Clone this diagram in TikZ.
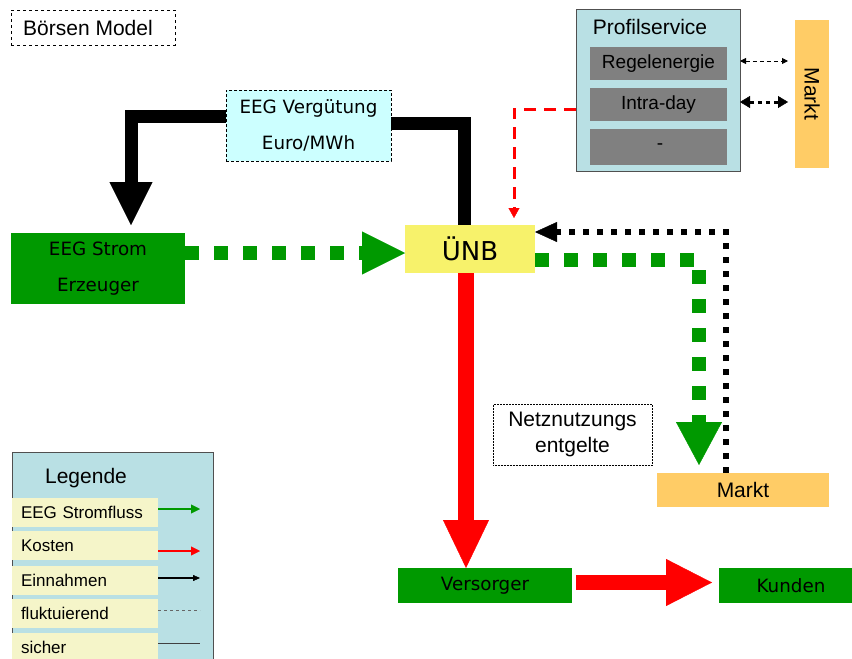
\documentclass[tikz,border=0pt]{standalone}
\usepackage{fontspec}
\setmainfont{Liberation Sans}
\newfontfamily\fru{DejaVu Sans}
\usetikzlibrary{arrows.meta}

\definecolor{eeggreen}{HTML}{009900}
\definecolor{paleblue}{HTML}{B9E0E4}
\definecolor{palecyan}{HTML}{CCFFFF}
\definecolor{unbyellow}{HTML}{F7F26B}
\definecolor{marktorange}{HTML}{FFCC66}
\definecolor{cream}{HTML}{F5F5C9}
\definecolor{boxgray}{HTML}{808080}
\definecolor{framegray}{HTML}{505050}

\tikzset{
  sz/.style 2 args={minimum width=#1pt, minimum height=#2pt},
  fru/.style={font=\fru\fontsize{18.3}{36}\selectfont},
  big/.style={font=\fontsize{21}{26}\selectfont},
  mid/.style={font=\fontsize{19}{24}\selectfont},
  small/.style={font=\fontsize{17}{20}\selectfont},
  legitem/.style={fill=cream, minimum height=29pt, text width=128pt, align=left, inner xsep=9pt, small},
  bigblack/.style={draw=black, line width=13pt, -{Triangle[length=43pt,width=43pt,line width=0.4pt]}},
  greenflow/.style={draw=eeggreen, line width=14pt, dash pattern=on 14pt off 15pt,
    -{Triangle[length=43pt,width=#1pt,line width=0.4pt]}},
  redflow/.style={draw=red, line width=#1pt},
  blackdot/.style={draw=black, line width=6pt, dash pattern=on 6pt off 8pt,
    -{Triangle[length=22pt,width=20pt,line width=0.4pt]}},
}

\begin{document}
\begin{tikzpicture}[x=1pt,y=-1pt, every node/.style={inner sep=0pt, outer sep=0pt}]
\useasboundingbox (0,0) rectangle (852,659);

% title
\node[draw, dashed, line width=0.6pt, sz={164}{35}, big] (boersen) at (93,27.5) {Börsen Model\hspace*{10pt}};

% main nodes
\node[draw=black, densely dashed, line width=0.6pt, fill=palecyan, sz={165}{71}, fru, align=center] (eegv) at (308.5,125.5) {EEG Vergütung\\Euro/MWh};
\node[fill=eeggreen, sz={174}{71}, fru, align=center] (erz) at (98,268.5) {EEG Strom\\Erzeuger};
\node[fill=unbyellow, sz={130}{48}, font=\fru\fontsize{26}{30}\selectfont] (unb) at (470,249) {ÜNB};
\node[fill=eeggreen, sz={174}{35}, fru] (versorger) at (485,585.5) {Versorger};
\node[fill=eeggreen, sz={144}{35}, fru] (kunden) at (791,585.5) {Kunden};
\node[fill=marktorange, sz={172}{34}, big] (marktB) at (743,490) {Markt};
\node[draw=black, densely dotted, line width=0.5pt, sz={159}{61}, big, align=center] (netz) at (572.5,434.5) {Netznutzungs\\entgelte};

% Profilservice group
\node[draw=framegray, line width=1pt, fill=paleblue, sz={164}{162}] (prof) at (658,90) {};
\node[big] (proftitle) at (650,27) {Profilservice};
\node[fill=boxgray, sz={137}{33}, mid] (regel) at (658.5,63.5) {Regelenergie};
\node[fill=boxgray, sz={137}{33}, mid] (intra) at (658.5,104.5) {Intra-day};
\node[fill=boxgray, sz={137}{36}, mid] (other) at (658.5,147) {\hspace*{3pt}-};
\node[fill=marktorange, sz={148}{34}, rotate=-90, big] (marktV) at (812,94) {Markt};

% legend
\node[draw=framegray, line width=1pt, fill=paleblue, sz={201}{218}] (legend) at (112.5,561) {};
\node[big] (legtitle) at (86,478) {Legende};
\node[legitem] (item1) at (85,512.5) {EEG Stromfluss};
\node[legitem] (item2) at (85,545.5) {Kosten};
\node[legitem] (item3) at (85,580) {Einnahmen};
\node[legitem] (item4) at (85,613.5) {fluktuierend};
\node[legitem] (item5) at (85,647.5) {sicher};

% payment flows (black)
\coordinate (eegin) at (131,225);
\draw[bigblack] ([yshift=9pt]eegv.west) -| (eegin);
\draw[draw=black, line width=13pt] ([yshift=2pt]eegv.east) -| ([xshift=-6pt]unb.north);

% EEG power flows (green)
\coordinate (g1) at ([yshift=15.5pt]erz.east);
\draw[greenflow=43] (g1) -- (g1 -| unb.west);
\coordinate (g2) at ([yshift=-11pt]unb.east);
\coordinate (g3) at ([xshift=-44pt,yshift=8pt]marktB.north);
\draw[greenflow=46] (g2) -| (g3);

% income from the market (black dotted)
\coordinate (b1) at ([xshift=-17pt]marktB.north);
\coordinate (b2) at ([yshift=17pt]unb.east);
\draw[blackdot] (b1) |- (b2);

% costs (red)
\draw[redflow=16, -{Triangle[length=48pt,width=46pt,line width=0.4pt]}] ([xshift=-4pt]unb.south) -- ([xshift=-19pt]versorger.north);
\draw[redflow=15, -{Triangle[length=46pt,width=47pt,line width=0.4pt]}] ([xshift=4pt,yshift=3pt]versorger.east) -- ([xshift=-7pt,yshift=3pt]kunden.west);
\coordinate (r1) at ([yshift=-19pt]prof.west);
\coordinate (r2) at ([xshift=44pt,yshift=7pt]unb.north);
\draw[red, line width=3pt, dash pattern=on 12pt off 8pt, -{Triangle[length=10pt,width=11pt,line width=0.4pt]}] (r1) -| (r2);

% Profilservice <-> Markt
\draw[line width=0.9pt, dash pattern=on 4pt off 3pt, shorten >=7pt,
  {Triangle[length=6pt,width=6pt]}-{Triangle[length=6pt,width=6pt]}]
  ([yshift=2.5pt]prof.east |- regel) -- ([yshift=2.5pt]marktV.south |- regel);
\draw[line width=3pt, dash pattern=on 4pt off 4pt, shorten >=7pt,
  {Triangle[length=10pt,width=12pt,line width=0.4pt]}-{Triangle[length=10pt,width=12pt,line width=0.4pt]}]
  ([yshift=2.5pt]prof.east |- intra) -- ([yshift=2.5pt]marktV.south |- intra);

% legend samples
\draw[eeggreen, line width=2.5pt, -{Triangle[length=9pt,width=9pt,line width=0.4pt]}] ([yshift=3.5pt]item1.east) -- ++(42,0);
\draw[red, line width=2.5pt, -{Triangle[length=9pt,width=9pt,line width=0.4pt]}] ([yshift=-5.5pt]item2.east) -- ++(42,0);
\draw[black, line width=1.2pt, -{Triangle[length=7pt,width=6pt,line width=0.4pt]}] ([yshift=2pt]item3.east) -- ++(42,0);
\draw[black!60, line width=0.8pt, dash pattern=on 3pt off 3pt] ([yshift=3.5pt]item4.east) -- ++(42,0);
\draw[black!75, line width=0.8pt] ([yshift=4.5pt]item5.east) -- ++(42,0);
\end{tikzpicture}
\end{document}
